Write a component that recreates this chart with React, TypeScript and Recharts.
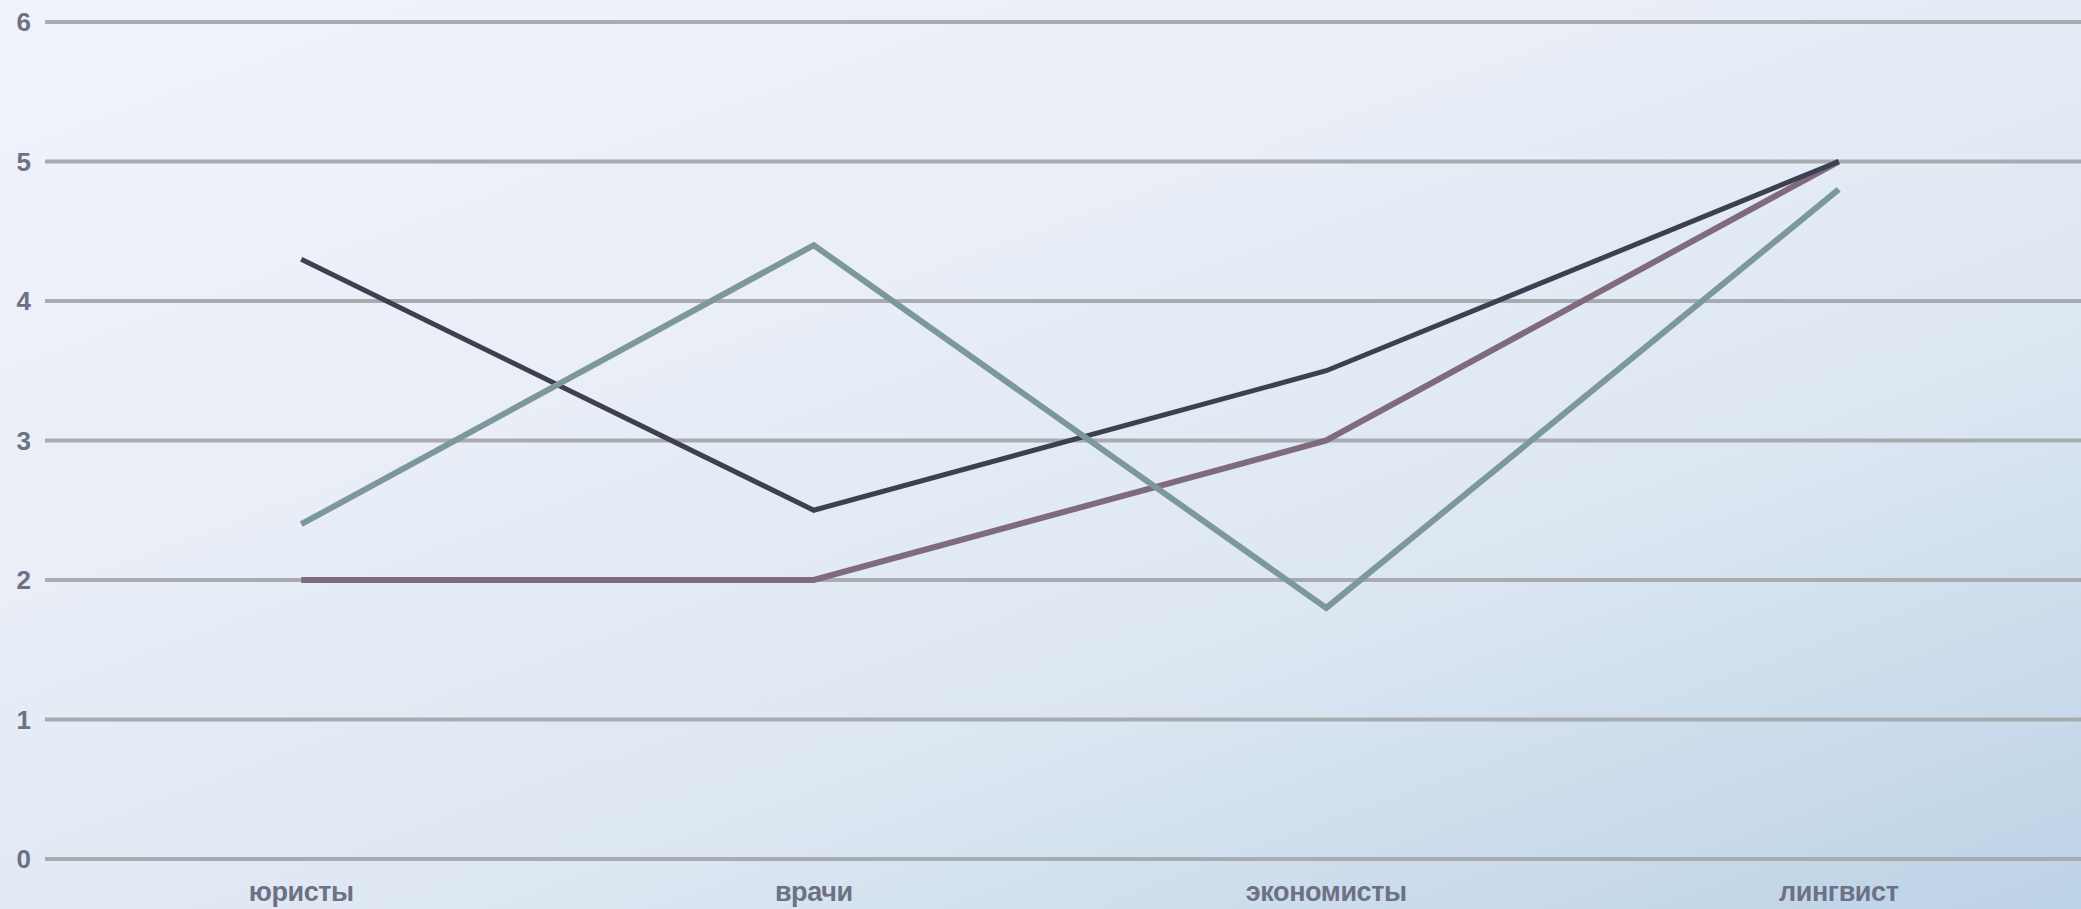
import { LineChart, Line, XAxis, YAxis, CartesianGrid } from 'recharts'

const categories = ['юристы', 'врачи', 'экономисты', 'лингвист']
const darkSeries = [4.3, 2.5, 3.5, 5]
const mauveSeries = [2, 2, 3, 5]
const tealSeries = [2.4, 4.4, 1.8, 4.8]
const yTicks = [0, 1, 2, 3, 4, 5, 6]

const data = categories.map((c, i) => ({
  name: c,
  dark: darkSeries[i],
  mauve: mauveSeries[i],
  teal: tealSeries[i],
}))

const labelStyle = {
  fontFamily: '"Liberation Sans", Arial, sans-serif',
  fontWeight: 700,
  fill: '#6d7186',
}

function XTick({ x, y, payload }: any) {
  return (
    <text x={x} y={y + 34} textAnchor="middle" fontSize={27} letterSpacing={-0.4} style={labelStyle}>
      {payload.value}
    </text>
  )
}

function YTick({ y, payload }: any) {
  return (
    <text x={31} y={y + 9} textAnchor="end" fontSize={26} style={labelStyle}>
      {payload.value}
    </text>
  )
}

export default function App() {
  return (
    <div
      style={{
        position: 'fixed',
        left: 0,
        top: 0,
        width: 2081,
        height: 909,
        overflow: 'hidden',
        background:
          'linear-gradient(160deg, #f0f3fa 0%, #e9eef7 35%, #dde7f2 65%, #bcd2e6 100%)',
      }}
    >
      <LineChart
        width={2095}
        height={909}
        data={data}
        margin={{ top: 22, right: 0, left: 0, bottom: 0 }}
      >
        <CartesianGrid vertical={false} stroke="#a8abb0" strokeWidth={4} />
        <XAxis
          dataKey="name"
          axisLine={false}
          tickLine={false}
          height={50}
          tick={<XTick />}
          scale="band"
        />
        <YAxis
          domain={[0, 6]}
          ticks={yTicks}
          axisLine={false}
          tickLine={false}
          width={45}
          tick={<YTick />}
        />
        <Line
          dataKey="mauve"
          type="linear"
          stroke="#7f6b7d"
          strokeWidth={6}
          dot={false}
          isAnimationActive={false}
        />
        <Line
          dataKey="dark"
          type="linear"
          stroke="#3d4050"
          strokeWidth={5}
          dot={false}
          isAnimationActive={false}
        />
        <Line
          dataKey="teal"
          type="linear"
          stroke="#7c989b"
          strokeWidth={6}
          dot={false}
          isAnimationActive={false}
        />
      </LineChart>
    </div>
  )
}
